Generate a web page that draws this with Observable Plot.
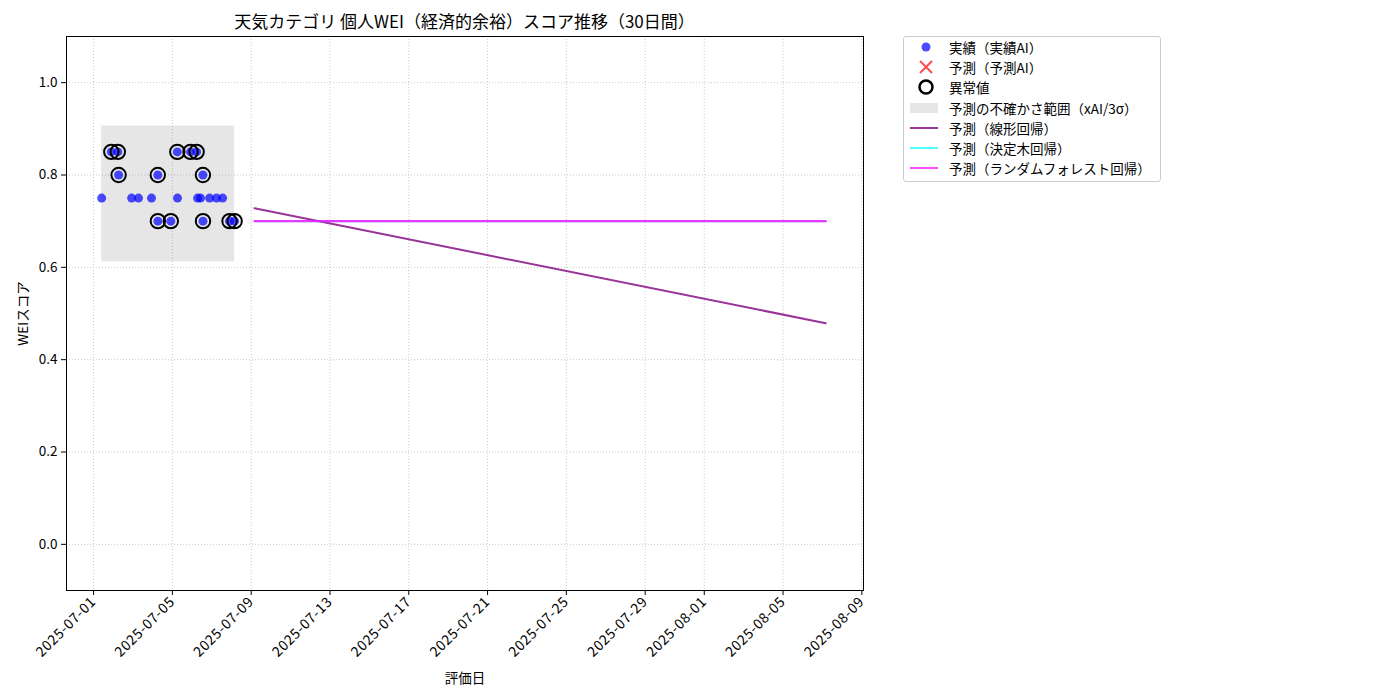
<!DOCTYPE html>
<html>
<head>
<meta charset="utf-8">
<script src="https://cdn.jsdelivr.net/npm/d3@7"></script>
<script src="https://cdn.jsdelivr.net/npm/@observablehq/plot@0.6"></script>
<style>
  html, body { margin: 0; padding: 0; background: #fff; }
  #wrap { position: relative; width: 1400px; height: 700px; font-family: "Noto Sans CJK JP", "DejaVu Sans", sans-serif; color: #000; }
  #title { position: absolute; top: 8px; left: 66px; width: 797px; text-align: center; font-size: 17px; }
  #legend { position: absolute; left: 903px; top: 36px; width: 256px; height: 144px; border: 1px solid #cccccc; border-radius: 3px; background: #fff; font-size: 13.5px; }
  .row { position: absolute; left: 0; height: 20px; display: flex; align-items: center; }
  .row svg { width: 40px; height: 20px; margin-left: 3px; }
  .row span { margin-left: 2px; white-space: nowrap; }
  .xt text { letter-spacing: 0.6px; }
</style>
</head>
<body>
<div id="wrap">
  <div id="title">天気カテゴリ 個人WEI（経済的余裕）スコア推移（30日間）</div>
  <div id="chart"></div>
  <div id="legend"></div>
</div>
<script>
// ---- data ----
const actualDates = [
  "2025-07-01T09:50","2025-07-01T21:36","2025-07-02T05:31","2025-07-02T06:29",
  "2025-07-02T22:19","2025-07-03T06:43","2025-07-03T22:34","2025-07-04T06:14",
  "2025-07-04T06:20","2025-07-04T22:05","2025-07-05T06:00","2025-07-05T06:14",
  "2025-07-05T22:05","2025-07-06T05:31","2025-07-06T06:43","2025-07-06T10:19",
  "2025-07-06T13:12","2025-07-06T13:18","2025-07-06T21:22","2025-07-07T05:46",
  "2025-07-07T13:12","2025-07-07T21:36","2025-07-08T03:50"
];
const actualScores = [
  0.75, 0.85, 0.85, 0.80,
  0.75, 0.75, 0.75, 0.80,
  0.70, 0.70, 0.85, 0.75,
  0.85, 0.85, 0.75, 0.75,
  0.80, 0.70, 0.75, 0.75,
  0.75, 0.70, 0.70
];
const outlierFlags = [
  false, true, true, true,
  false, false, false, true,
  true, true, true, false,
  true, true, false, false,
  true, true, false, false,
  false, true, true
];
const bandLow = 0.612;
const bandHigh = 0.906;
const forecastDates = ["2025-07-09T04:00", "2025-08-07T04:00"];
const linearPred = [0.728, 0.479];
const treePred = [0.70, 0.70];
const forestPred = [0.70, 0.70];
const xTickLabels = ["2025-07-01","2025-07-05","2025-07-09","2025-07-13","2025-07-17","2025-07-21","2025-07-25","2025-07-29","2025-08-01","2025-08-05","2025-08-09"];
const yTickValues = [0.0, 0.2, 0.4, 0.6, 0.8, 1.0];
const xDomain = ["2025-06-29T15:00", "2025-08-09T02:00"];
const yDomain = [-0.1, 1.1];

// ---- build tables ----
const parse = s => new Date(s);
const actual = actualDates.map((d, i) => ({date: parse(d), score: actualScores[i], outlier: outlierFlags[i]}));
const outliers = actual.filter(d => d.outlier);
const band = [{x1: parse(actualDates[0]), x2: parse(actualDates[actualDates.length - 1]), y1: bandLow, y2: bandHigh}];
const fc = (arr) => forecastDates.map((d, i) => ({date: parse(d), value: arr[i]}));
const tickDates = xTickLabels.map(s => parse(s + "T00:00"));
const fmt = d3.timeFormat("%Y-%m-%d");
const gridStyle = {stroke: "#c4c4c4", strokeOpacity: 1, strokeWidth: 0.9, strokeDasharray: "1,2"};

const chart = Plot.plot({
  width: 1400,
  height: 700,
  marginLeft: 66,
  marginRight: 537,
  marginTop: 36,
  marginBottom: 110,
  style: {fontFamily: '"Noto Sans CJK JP", "DejaVu Sans", sans-serif', fontSize: "13.5px", color: "#000", background: "transparent"},
  x: {type: "time", domain: xDomain.map(parse)},
  y: {domain: yDomain},
  marks: [
    Plot.gridX(tickDates, gridStyle),
    Plot.gridY(yTickValues, gridStyle),
    Plot.rect(band, {x1: "x1", x2: "x2", y1: "y1", y2: "y2", fill: "gray", fillOpacity: 0.2}),
    Plot.dot(actual, {x: "date", y: "score", r: 4.5, fill: "blue", fillOpacity: 0.7, stroke: "none"}),
    Plot.dot(outliers, {x: "date", y: "score", r: 7.2, fill: "none", stroke: "black", strokeWidth: 2}),
    Plot.line(fc(linearPred), {x: "date", y: "value", stroke: "purple", strokeOpacity: 0.8, strokeWidth: 2}),
    Plot.line(fc(treePred), {x: "date", y: "value", stroke: "cyan", strokeOpacity: 0.55, strokeWidth: 2}),
    Plot.line(fc(forestPred), {x: "date", y: "value", stroke: "#ff00ff", strokeOpacity: 0.78, strokeWidth: 2.2}),
    Plot.axisX(tickDates, {tickFormat: fmt, tickRotate: -45, tickSize: 5, tickPadding: 4, fontSize: 14, className: "xt", label: null}),
    Plot.axisX({ticks: [], tickSize: 0, label: "評価日", labelAnchor: "center", labelArrow: "none", labelOffset: 92}),
    Plot.axisY(yTickValues, {tickFormat: d3.format(".1f"), tickSize: 5, tickPadding: 4, label: "WEIスコア", labelAnchor: "center", labelArrow: "none", labelOffset: 48}),
    Plot.frame({stroke: "black", strokeWidth: 1})
  ]
});
document.getElementById("chart").appendChild(chart);

// ---- legend ----
const legendItems = [
  {label: "実績（実績AI）", sym: '<circle cx="19" cy="10" r="4.5" fill="blue" fill-opacity="0.7"/>'},
  {label: "予測（予測AI）", sym: '<path d="M13,4 L25,16 M25,4 L13,16" stroke="red" stroke-opacity="0.7" stroke-width="2"/>'},
  {label: "異常値", sym: '<circle cx="19" cy="10" r="6.5" fill="none" stroke="black" stroke-width="2.5"/>'},
  {label: "予測の不確かさ範囲（xAI/3σ）", sym: '<rect x="3" y="5" width="28" height="10" fill="gray" fill-opacity="0.2"/>'},
  {label: "予測（線形回帰）", sym: '<line x1="3" x2="31" y1="10" y2="10" stroke="purple" stroke-opacity="0.8" stroke-width="2"/>'},
  {label: "予測（決定木回帰）", sym: '<line x1="3" x2="31" y1="10" y2="10" stroke="cyan" stroke-opacity="0.7" stroke-width="2"/>'},
  {label: "予測（ランダムフォレスト回帰）", sym: '<line x1="3" x2="31" y1="10" y2="10" stroke="magenta" stroke-opacity="0.7" stroke-width="2"/>'}
];
const legend = document.getElementById("legend");
legendItems.forEach((it, i) => {
  const row = document.createElement("div");
  row.className = "row";
  row.style.top = (0 + i * 20.2) + "px";
  row.innerHTML = `<svg viewBox="0 0 40 20">${it.sym}</svg><span>${it.label}</span>`;
  legend.appendChild(row);
});
</script>
</body>
</html>
